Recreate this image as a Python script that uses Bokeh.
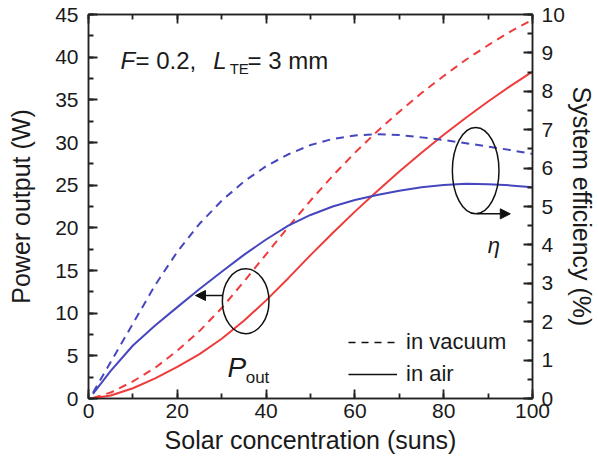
from bokeh.plotting import figure
from bokeh.models import (Range1d, LinearAxis, Label, Arrow, NormalHead, Legend,
                          LegendItem, SingleIntervalTicker)
from bokeh.embed import file_html
from bokeh.resources import INLINE

# ---------------- data ----------------
concentration = [1, 5, 10, 15, 20, 25, 30, 35, 40, 45, 50, 55, 60, 65, 70, 75, 80, 85, 90, 95, 100]
power_air = [0.02, 0.35, 1.2, 2.35, 3.7, 5.2, 7.0, 9.1, 11.5, 14.1, 16.8, 19.4, 21.9, 24.3, 26.6,
             28.8, 30.9, 32.9, 34.8, 36.6, 38.3]
power_vacuum = [0.05, 0.7, 2.0, 3.6, 5.6, 7.9, 10.6, 13.7, 16.9, 20.1, 23.2, 26.1, 28.8, 31.3,
                33.6, 35.8, 37.8, 39.7, 41.4, 43.0, 44.4]
eff_air = [0.12, 0.72, 1.38, 1.9, 2.38, 2.85, 3.3, 3.74, 4.14, 4.5, 4.78, 5.0, 5.17, 5.3, 5.41,
           5.5, 5.56, 5.59, 5.58, 5.55, 5.5]
eff_vacuum = [0.15, 0.95, 1.95, 2.95, 3.82, 4.55, 5.15, 5.65, 6.05, 6.36, 6.6, 6.76, 6.85, 6.88,
              6.86, 6.8, 6.73, 6.65, 6.56, 6.47, 6.37]

# ---------------- styling ----------------
RED = "#EE3B3B"
BLUE = "#4646BE"
AX = "#222222"
TXT = "#1a1a1a"
FONT = "Liberation Sans"

p = figure(width=598, height=469, x_range=Range1d(0, 100), y_range=Range1d(0, 45),
           output_backend="svg", toolbar_location=None,
           min_border_left=88, min_border_right=66, min_border_top=14, min_border_bottom=71,
           x_axis_label="Solar concentration (suns)", y_axis_label="Power output (W)")
p.extra_y_ranges = {"eff": Range1d(0, 10)}
p.xgrid.visible = False
p.ygrid.visible = False
p.outline_line_color = AX
p.outline_line_width = 1.5
p.background_fill_color = "white"
p.border_fill_color = "white"

right_axis = LinearAxis(y_range_name="eff", axis_label="System efficiency (%)")
p.add_layout(right_axis, "right")
top_axis = LinearAxis()
p.add_layout(top_axis, "above")

p.xaxis.ticker = SingleIntervalTicker(interval=20, num_minor_ticks=2)
p.yaxis[0].ticker = SingleIntervalTicker(interval=5, num_minor_ticks=2)
right_axis.ticker = SingleIntervalTicker(interval=1, num_minor_ticks=2)

for ax in [p.xaxis[0], p.xaxis[1], p.yaxis[0], right_axis]:
    ax.axis_line_color = AX
    ax.axis_line_width = 1.5
    ax.major_tick_in = 9
    ax.major_tick_out = 0
    ax.minor_tick_in = 5
    ax.minor_tick_out = 0
    ax.major_tick_line_color = AX
    ax.minor_tick_line_color = AX
    ax.major_tick_line_width = 1.8
    ax.minor_tick_line_width = 1.8
    ax.major_label_text_font = FONT
    ax.major_label_text_font_size = "21px"
    ax.major_label_text_color = TXT
    ax.axis_label_text_font = FONT
    ax.axis_label_text_font_size = "25px"
    ax.axis_label_text_font_style = "normal"
    ax.axis_label_text_color = TXT

top_axis.major_label_text_color = None
top_axis.major_label_text_font_size = "1px"
top_axis.major_label_standoff = 0

p.xaxis[0].major_label_standoff = 10
p.xaxis[0].axis_label_standoff = 7
p.yaxis[0].major_label_standoff = 10
p.yaxis[0].axis_label_standoff = 17
right_axis.major_label_standoff = 9
right_axis.axis_label_standoff = 0

# ---------------- curves ----------------
p.line(concentration, power_vacuum, line_color=RED, line_width=2, line_dash="8 6")
p.line(concentration, power_air, line_color=RED, line_width=2)
p.line(concentration, eff_vacuum, line_color=BLUE, line_width=2, line_dash="8 6", y_range_name="eff")
p.line(concentration, eff_air, line_color=BLUE, line_width=2, y_range_name="eff")

# ---------------- annotations ----------------
p.ellipse(x=[35.4], y=[11.4], width=10.5, height=7.6, fill_color=None,
          line_color="#111111", line_width=1.5)
p.ellipse(x=[87.2], y=[26.7], width=10.5, height=10.1, fill_color=None,
          line_color="#111111", line_width=1.5)
p.add_layout(Arrow(end=NormalHead(size=10, fill_color="#111111", line_color="#111111"),
                   x_start=30.1, y_start=12.07, x_end=24.1, y_end=12.07,
                   line_color="#111111", line_width=1.5))
p.add_layout(Arrow(end=NormalHead(size=10, fill_color="#111111", line_color="#111111"),
                   x_start=87.5, y_start=21.64, x_end=95.0, y_end=21.64,
                   line_color="#111111", line_width=1.5))

def lab(x, y, text, size, style="normal"):
    p.add_layout(Label(x=x, y=y, text=text, text_font=FONT, text_font_size=size,
                       text_font_style=style, text_color=TXT, text_baseline="alphabetic",
                       text_align="left"))

lab(7.2, 39.61, "F", "24px", "italic")
lab(10.6, 39.61, "= 0.2,", "24px")
lab(28.1, 39.61, "L", "24px", "italic")
lab(31.8, 38.67, "TE", "15px")
lab(35.8, 39.61, "= 3 mm", "24px")
lab(31.3, 3.63, "P", "28px", "italic")
lab(35.4, 2.46, "out", "17px")
lab(89.9, 17.93, "\u03b7", "22px", "italic")

# ---------------- legend ----------------
nan = float("nan")
leg_vac = p.line(x=[nan], y=[nan], line_color="#111111", line_width=1.3, line_dash="7 6")
leg_air = p.line(x=[nan], y=[nan], line_color="#111111", line_width=1.3)
legend = Legend(items=[LegendItem(label="in vacuum", renderers=[leg_vac]),
                       LegendItem(label="in air", renderers=[leg_air])],
                location=(260, 11), margin=0, padding=0, spacing=6,
                glyph_width=49, label_standoff=9,
                label_text_font=FONT, label_text_font_size="22px", label_text_color=TXT,
                border_line_alpha=0, background_fill_alpha=0)
p.add_layout(legend)

open("out.html", "w").write(file_html(p, INLINE))
